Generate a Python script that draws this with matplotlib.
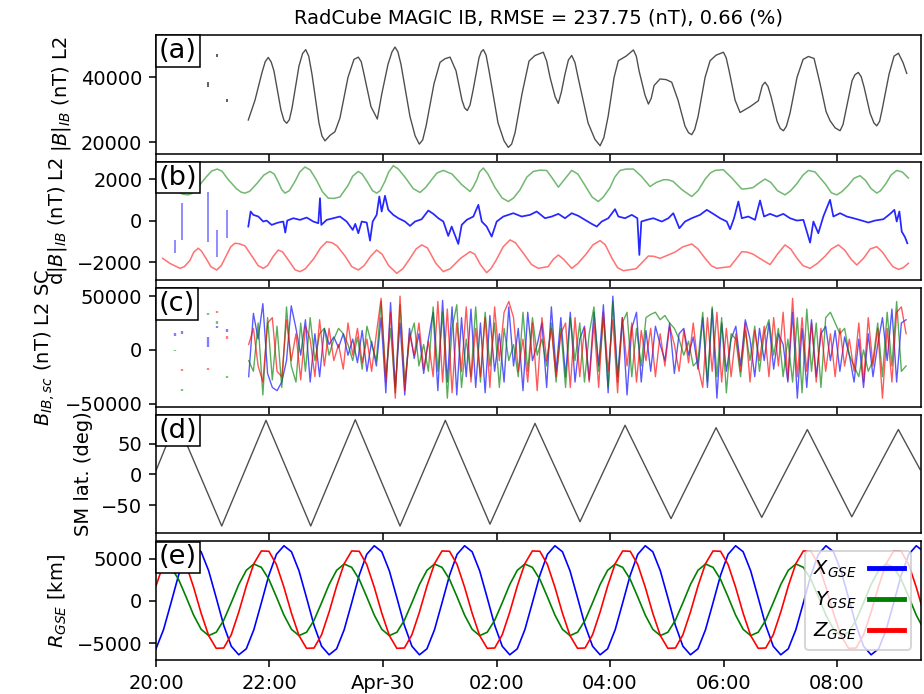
import numpy as np
import matplotlib
matplotlib.use('Agg')
import matplotlib.pyplot as plt
import matplotlib.dates as mdates

# tijden in minuten na 2022-04-29 20:00
T0 = np.datetime64('2022-04-29T20:00')
T_EIND = 808.8

titel = "RadCube MAGIC IB, RMSE = 237.75 (nT), 0.66 (%)"

# (a) |B| IB: (minuut, nT)
a_punten = [(97.6, 26900), (104.7, 33000), (112.1, 41500), (115.5, 44800), (118.7, 46100),
            (121.8, 44700), (124.7, 42000), (132.1, 30000), (135.3, 26800), (138.2, 25900),
            (141.0, 27000), (143.8, 30500), (151.2, 43500), (155.0, 47300), (158.3, 48500),
            (161.5, 46500), (164.9, 41000), (172.3, 26000), (175.5, 22000), (178.7, 20500),
            (184.0, 22200), (189.2, 23300), (194.5, 27500), (203.0, 40000), (209.3, 45500),
            (213.9, 46200), (217.0, 44800), (219.9, 41000), (227.3, 31000), (234.0, 27200),
            (238.7, 34900), (245.3, 44000), (249.5, 47800), (252.7, 49300), (255.8, 47800),
            (259.0, 44000), (268.5, 28000), (274.0, 22000), (278.4, 19500), (282.0, 20800),
            (285.5, 25000), (293.9, 38000), (300.3, 44600), (305.5, 45700), (310.9, 46200),
            (317.2, 42000), (323.5, 33000), (326.3, 30600), (329.1, 29800), (332.0, 31500),
            (335.2, 36000), (341.5, 46000), (343.8, 47800), (346.1, 48500), (349.0, 46800),
            (352.1, 42000), (361.6, 26000), (368.0, 20500), (372.5, 18500), (376.0, 19500),
            (379.6, 23000), (387.0, 35000), (394.4, 45000), (400.7, 46700), (409.5, 47700),
            (413.0, 45000), (416.6, 40000), (422.0, 34000), (425.3, 32000), (428.6, 35500),
            (432.4, 41000), (436.0, 45300), (439.5, 46700), (443.0, 44500), (446.2, 40000),
            (456.8, 26000), (464.0, 21000), (469.5, 19000), (473.5, 21500), (478.0, 28000),
            (484.3, 40000), (488.8, 45100), (497.0, 46500), (504.7, 48400), (507.8, 46500),
            (510.7, 42000), (517.0, 34500), (520.6, 31800), (523.5, 33500), (526.6, 37500),
            (532.9, 39500), (539.3, 39300), (545.2, 38500), (551.9, 33000), (559.3, 25000),
            (563.0, 23000), (566.4, 22400), (569.5, 24000), (573.1, 28000), (580.5, 40000),
            (585.8, 45100), (592.1, 46800), (599.9, 47700), (602.8, 46000), (605.9, 42000),
            (612.2, 33000), (617.5, 29200), (628.1, 31000), (636.8, 32800), (641.0, 37500),
            (643.9, 38500), (647.0, 37200), (650.3, 34000), (656.6, 26500), (660.0, 24300),
            (663.3, 23600), (666.5, 25000), (670.3, 29000), (677.7, 40000), (684.1, 45500),
            (689.7, 46400), (695.7, 45800), (702.1, 38000), (708.4, 29500), (712.6, 26700),
            (718.0, 24500), (723.2, 23600), (726.3, 25500), (729.5, 30000), (735.9, 39000),
            (739.0, 40800), (742.5, 41500), (745.5, 40200), (748.6, 37000), (754.9, 29000),
            (759.0, 26000), (762.0, 25100), (765.0, 26500), (767.6, 30000), (775.0, 41000),
            (780.3, 46500), (784.9, 47400), (789.8, 44500), (793.7, 41200)]

# losse stukjes data aan het begin
frag_t = [20.1, 27.5, 55.0, 64.2, 75.4]
a_frag_t = [55.0, 64.2, 75.4]
a_frag_lo = [37000, 46300, 32300]
a_frag_hi = [38600, 47300, 33200]

# (b) verschil (blauw) en grenzen (groen, rood)
b_blue_t = [97.6, 100.1, 102.9, 108.2, 113.4, 117.0, 122.3, 129.3, 134.6, 136.7,
            138.8, 145.2, 152.3, 159.3, 166.3, 171.6, 173.4, 174.8, 180.5, 187.5,
            194.5, 201.6, 208.0, 210.7, 213.9, 217.5, 222.8, 226.3, 229.1, 233.3,
            236.1, 238.6, 242.1, 245.6, 250.9, 256.2, 263.3, 268.6, 273.8, 280.9,
            287.9, 293.2, 298.5, 303.8, 309.0, 312.6, 319.6, 323.2, 328.5, 335.5,
            340.8, 344.4, 349.6, 354.9, 360.2, 367.2, 377.8, 386.6, 395.4, 402.5,
            411.3, 418.4, 425.4, 432.4, 439.5, 446.5, 453.6, 460.7, 466.0, 471.2,
            478.2, 485.3, 488.8, 495.9, 503.0, 508.9, 511.0, 513.1, 518.8, 525.8,
            534.7, 541.7, 546.9, 553.3, 559.3, 566.4, 575.2, 582.3, 589.2, 596.3,
            603.4, 606.9, 611.1, 615.7, 619.3, 626.2, 633.3, 638.6, 642.8, 649.2,
            656.3, 663.2, 670.3, 677.4, 684.4, 691.5, 695.0, 700.2, 705.5, 712.6,
            716.1, 723.2, 730.3, 737.3, 746.1, 753.1, 760.2, 769.0, 776.1, 780.6,
            783.1, 785.9, 788.4, 791.9, 794.3]
b_blue_v = [-273, 450, 289, 209, -32, 16, -193, -80, -32, -562,
            16, 128, 48, 161, -32, -112, 1092, -193, 48, 128,
            209, -32, -434, -145, -594, -32, -80, -948, -32, 289,
            1172, 450, 1205, 530, 289, 128, -32, -241, -32, 80,
            498, 337, 128, -32, -723, -273, -1108, -193, 48, 209,
            771, -32, -273, -755, -32, 209, 369, 209, 289, 450,
            128, 209, 337, 128, 369, 241, 48, -145, -273, -32,
            128, 562, 209, 128, 289, 128, -1638, -32, 48, 128,
            -32, 128, 369, -353, -32, 128, 289, 530, 337, 128,
            -32, -402, 128, 931, 128, 209, 48, 980, 209, 337,
            209, 337, 128, 16, 48, -1044, -32, -594, 209, 1012,
            209, 369, 209, 128, 16, -80, 16, 80, 337, 530,
            -32, 450, -514, -787, -1076]
b_frag_lo = [-1550, -915, -1000, -1720, -820]
b_frag_hi = [-900, 870, 1410, -430, 530]

b_green = [(7.1, 2000), (15, 1700), (23.3, 1400), (28, 1290), (33.8, 1250), (38, 1320),
           (44, 1600), (52.9, 2100), (59, 2400), (64.8, 2490), (70, 2380), (76.1, 2000),
           (85, 1550), (90, 1380), (94.1, 1335), (99, 1420), (106.8, 1800), (114, 2200),
           (120.5, 2375), (125, 2250), (129.0, 1900), (133, 1500), (136.4, 1335), (141, 1450),
           (147.0, 1900), (152, 2350), (157.5, 2590), (163, 2450), (169.2, 2000), (176, 1400),
           (182.2, 1090), (188, 1080), (194.5, 1150), (203.0, 1700), (208, 2150), (213.9, 2375),
           (218, 2250), (223.1, 1900), (229, 1450), (233.3, 1335), (237, 1450), (242.1, 1900),
           (246, 2350), (250.9, 2650), (256, 2500), (263.3, 2100), (272, 1550), (279.1, 1365),
           (285, 1600), (291.8, 2000), (297, 2300), (303.8, 2425), (313.0, 2250), (323, 1750),
           (332.0, 1410), (335, 1600), (339.4, 2000), (342, 2350), (346.1, 2540), (351, 2250),
           (358.4, 1600), (366, 1100), (372.5, 930), (378, 1100), (384.9, 1500), (392, 2100),
           (398.9, 2375), (406, 2440), (413.1, 2420), (419, 2050), (425.4, 1620), (432, 2000),
           (439.5, 2425), (446, 2250), (453.6, 1700), (461, 1150), (467.6, 930), (473, 1150),
           (480.0, 1600), (485, 2100), (490.6, 2425), (497, 2490), (504.7, 2490), (513, 2150),
           (522.3, 1650), (529, 1850), (536.4, 1975), (541, 1980), (546.6, 1900), (556, 1500),
           (566.4, 1170), (573, 1450), (580.5, 2000), (586, 2300), (591.0, 2425), (599.8, 2460),
           (609, 2050), (619.3, 1530), (625, 1550), (631.2, 1600), (637, 1800), (643.9, 2010),
           (650, 1850), (657, 1450), (665.0, 1250), (671, 1450), (677.7, 1800), (684, 2200),
           (689.7, 2425), (696.8, 2350), (708, 1750), (714, 1350), (719.7, 1250), (725, 1400),
           (731.7, 1700), (738, 2050), (744.3, 2170), (750, 1950), (756, 1550), (762.0, 1335),
           (766, 1450), (771.8, 1800), (777, 2200), (783.1, 2425), (789, 2350), (795.4, 2060)]
b_red = [(7.1, -1800), (15, -2050), (25.4, -2280), (30, -2200), (35.9, -1900), (40, -1500),
         (44.7, -1315), (48, -1450), (52.9, -1800), (58, -2200), (64.2, -2360), (69, -2150),
         (74.0, -1700), (79, -1250), (83.5, -1075), (88, -1100), (94.1, -1200), (103, -1800),
         (108, -2150), (113.4, -2280), (118, -2150), (124, -1700), (129.3, -1400), (134, -1500),
         (141, -1950), (147, -2350), (152.3, -2440), (158, -2300), (167.1, -1800), (174, -1300),
         (180.5, -1000), (186, -1050), (191.4, -1200), (200, -1700), (207, -2200), (213.9, -2360),
         (220, -2150), (227, -1700), (233.3, -1400), (239, -1600), (246, -2150), (254.5, -2520),
         (261, -2300), (268.6, -1800), (275, -1350), (280.9, -1155), (287, -1300), (296, -2050),
         (303.8, -2440), (311, -2300), (322, -1800), (332.0, -1480), (337, -1600), (343, -2100),
         (349.6, -2490), (354, -2300), (359.5, -1900), (367, -1250), (374.3, -915), (380, -1050),
         (389.1, -1600), (397, -2100), (404.2, -2280), (414.5, -2200), (420, -1850), (425.4, -1640),
         (431, -1850), (439.5, -2280), (446, -2050), (454.6, -1600), (462, -1150), (469.5, -950),
         (475, -1150), (482.1, -1800), (488, -2250), (494.1, -2395), (507.5, -2300), (514, -2000),
         (520.5, -1690), (526, -1700), (532.9, -1800), (541, -1650), (548.7, -1500), (557, -1250),
         (566.4, -1110), (573, -1350), (580.5, -1800), (587, -2150), (592.8, -2280), (606.9, -2200),
         (613, -1850), (619.3, -1480), (625, -1500), (631.2, -1600), (640, -1850), (649.2, -2100),
         (657, -1600), (665.0, -1155), (671, -1350), (677.7, -1800), (684, -2150), (691.5, -2280),
         (699, -2050), (707.3, -1700), (714, -1350), (721.4, -1155), (728, -1400), (735, -1850),
         (740.9, -2120), (748, -1800), (755, -1350), (762.0, -1240), (768, -1500), (774.0, -1900),
         (779, -2200), (784.9, -2330), (790, -2250), (795.4, -2040)]

# (c) B in sc-frame, in 1000 nT, elke 5 min vanaf 98 min
c_start, c_stap = 98.0, 5.0
c_blue = [-25, 34, 10, 43, -22, -35, -38, -30, -10, 41, 20,
          -5, 28, -30, 15, -25, 20, 5,
          12, 2, 15, -5, 10, -12, 18, -20, 8, -15,
          30, -40, 44, -35, 25, -42,
          20, -8, 15, -22, 10,
          35, -38, 46, -30, 40, -42, 30, -25,
          38, -35, 25, -40, 32, -20, 15,
          -30, 40, -15, 20, -38, 35, -10, 5, 25, -35, 40, -20,
          30, -25, 35, -30, 10, 22, -28, 35, -15,
          42, -40, 50, -25, 30, -42, 20, 35, -30,
          18, -20, 22, 5, -10, 25, -22, 15, 20, -5, 12, -18,
          30, -35, 38, -45, 25, -20, 10,
          22, -15, 28, 10, -25, 20, -10, 25, -18, 15, 5, -30,
          35, -45, 20, -35, 28, -25, 15,
          22, -10, 18, -20, 12, -5,
          -30, 10, -35, 15, -25, 5,
          30, -10, 38, -30, 25, 28]
c_green = [-10, -20, 25, -42, 30, -28, 22, -35, 40, -15, -30,
           25, -20, 30, -10, 15, 20, -5,
           10, 20, 15, 5, -10, 12, -18, 22, 5, -10,
           45, -25, 20, -40, 42, -30,
           10, 25, -15, 5, -20,
           40, -20, 35, -45, 20, 42, -35, 10,
           -25, 40, -30, 35, -15, 25, -35,
           20, -10, 5, -25, 35, -20, 30, -5, 10, -15, 25, -30,
           20, -35, 30, -10, 25, -30, 15, 40, -20,
           30, -35, 45, -30, 25, 35, -25, 20, -15,
           30, 33, 35, 28, 32, 25, 20, 10, -5, 8, -15, -10,
           35, -30, 40, -25, 30, -40, 15,
           10, -25, 18, -10, 22, -20, 15, 28, -5, 20, -25, 10,
           -30, 30, -40, 38, -20, 25, -35,
           30, 35, 25, 15, 20, -5,
           -15, -25, 0, -20, -10, 25,
           -25, 35, -15, 45, -20, -15]
c_red = [5, 20, -15, -30, 25, 30, -20, -25, 28, -10, 15,
         -28, 22, 10, -25, 28, -15, 20,
         -10, 5, -18, 25, -5, 20, -12, 10, -20, 15,
         48, -30, 35, -45, 50, -38,
         15, -5, 25, -18, 8,
         -25, 45, -30, 38, -40, 25, -20, 40,
         -30, 20, -25, 30, -35, 40, -10,
         35, 45, 30, -20, 10, -30, 25, -38, 30, -10, 20, -25,
         15, 25, -35, 30, -25, 20, -30, 25, -35,
         35, -20, 28, -40, 30, -15, 25, -30, 18,
         -10, 20, -25, 15, -15, 22, 5, -20, 18, -12, 25, -15,
         -35, 30, -20, 35, -30, 20, -25,
         15, -20, 25, -30, 18, -10, 22, -25, 30, -15, 35, -28,
         48, -25, 30, -20, 25, -30, 20,
         -20, 15, -25, 20, -15, 10,
         -20, 25, -30, 30, -15, 20,
         -45, 20, -30, 35, 40, 15]
c_frag_blue = [(13, 16), (15, 18), (2.5, 11.7), (20, 22.5), (17, 19)]
c_frag_green = [(-1.5, 0), (-38.5, -36.5), (32.5, 34.5), (24.5, 27), (-26, -24.5)]
c_frag_red_t = [27.5, 55.0, 64.2, 75.4]
c_frag_red = [(-20, -18), (-18.5, -16.5), (34, 36), (10.5, 13)]

# (d) SM breedtegraad, toppen en dalen
d_t = [0.0, 21.7, 69.5, 116.3, 163.6, 210.7, 258.0, 305.9, 353.1, 400.7,
       448.3, 495.9, 544.5, 592.1, 640.4, 688.6, 735.6, 784.8, 807.8]
d_v = [6, 88, -84, 88, -84, 89, -84, 88, -81, 83,
       -77, 80, -72, 76, -70, 73, -69, 73, 8]

# (e) positie GSE in km, elke 7.958 min vanaf 20:00
e_stap = 7.958
e_x = [-5671, -3412, -219, 3057, 5537, 6553, 5841, 3582, 389, -2887, -5367, -6383,
       -5671, -3412, -219, 3057, 5537, 6553, 5841, 3582, 389, -2887, -5367, -6383,
       -5671, -3412, -219, 3057, 5537, 6553, 5841, 3582, 389, -2887, -5367, -6383,
       -5671, -3412, -219, 3057, 5537, 6553, 5841, 3582, 389, -2887, -5367, -6383,
       -5671, -3412, -219, 3057, 5537, 6553, 5841, 3582, 389, -2887, -5367, -6383,
       -5671, -3412, -219, 3057, 5537, 6553, 5841, 3582, 389, -2887, -5367, -6383,
       -5671, -3412, -219, 3057, 5537, 6553, 5841, 3582, 389, -2887, -5367, -6383,
       -5671, -3412, -219, 3057, 5537, 6553, 5841, 3582, 389, -2887, -5367, -6383,
       -5671, -3412, -219, 3057, 5537, 6553, 5841]
e_y = [3642, 4386, 3991, 2564, 489, -1679, -3362, -4106, -3711, -2284, -209, 1959,
       3642, 4386, 3991, 2564, 489, -1679, -3362, -4106, -3711, -2284, -209, 1959,
       3642, 4386, 3991, 2564, 489, -1679, -3362, -4106, -3711, -2284, -209, 1959,
       3642, 4386, 3991, 2564, 489, -1679, -3362, -4106, -3711, -2284, -209, 1959,
       3642, 4386, 3991, 2564, 489, -1679, -3362, -4106, -3711, -2284, -209, 1959,
       3642, 4386, 3991, 2564, 489, -1679, -3362, -4106, -3711, -2284, -209, 1959,
       3642, 4386, 3991, 2564, 489, -1679, -3362, -4106, -3711, -2284, -209, 1959,
       3642, 4386, 3991, 2564, 489, -1679, -3362, -4106, -3711, -2284, -209, 1959,
       3642, 4386, 3991, 2564, 489, -1679, -3362]
e_z = [1773, 4426, 5935, 5898, 4323, 1632, -1453, -4106, -5615, -5578, -4003, -1312,
       1773, 4426, 5935, 5898, 4323, 1632, -1453, -4106, -5615, -5578, -4003, -1312,
       1773, 4426, 5935, 5898, 4323, 1632, -1453, -4106, -5615, -5578, -4003, -1312,
       1773, 4426, 5935, 5898, 4323, 1632, -1453, -4106, -5615, -5578, -4003, -1312,
       1773, 4426, 5935, 5898, 4323, 1632, -1453, -4106, -5615, -5578, -4003, -1312,
       1773, 4426, 5935, 5898, 4323, 1632, -1453, -4106, -5615, -5578, -4003, -1312,
       1773, 4426, 5935, 5898, 4323, 1632, -1453, -4106, -5615, -5578, -4003, -1312,
       1773, 4426, 5935, 5898, 4323, 1632, -1453, -4106, -5615, -5578, -4003, -1312,
       1773, 4426, 5935, 5898, 4323, 1632, -1453]


def tijd(minuten):
    m = np.asarray(minuten, dtype=float)
    return T0 + (m * 60000).astype('timedelta64[ms]')


def regelmatig(start, stap, n):
    return tijd(start + stap * np.arange(n))


def paneel_label(ax, tekst):
    ax.annotate(tekst, xy=(0, 1), xycoords='axes fraction', xytext=(1.5, -1.5),
                textcoords='offset points', ha='left', va='top', fontsize=14,
                bbox=dict(boxstyle='square,pad=0.1', fc='white', ec='black', lw=0.8),
                zorder=10)


fig, axs = plt.subplots(5, 1, sharex=True, figsize=(6.6, 4.9572), dpi=140)
fig.subplots_adjust(left=0.1688, right=0.9968, top=0.9496, bottom=0.049, hspace=0.0675)

# (a)
ax = axs[0]
a_t, a_v = zip(*a_punten)
ax.plot(tijd(a_t), a_v, color='0.3', lw=0.7)
ax.vlines(tijd(a_frag_t), a_frag_lo, a_frag_hi, color='0.3', lw=0.9)
ax.set_ylim(16600, 53000)
ax.set_yticks([20000, 40000])
ax.set_ylabel(r'$|B|_{IB}$ (nT) L2')
ax.set_title(titel, fontsize=10)
paneel_label(ax, '(a)')

# (b)
ax = axs[1]
g_t, g_v = zip(*b_green)
r_t, r_v = zip(*b_red)
ax.plot(tijd(g_t), g_v, color='g', alpha=0.55, lw=0.8)
ax.plot(tijd(r_t), r_v, color='r', alpha=0.55, lw=0.8)
ax.vlines(tijd(frag_t), b_frag_lo, b_frag_hi, color='b', alpha=0.5, lw=0.9)
ax.plot(tijd(b_blue_t), b_blue_v, color='b', alpha=0.85, lw=0.9)
ax.set_ylim(-2850, 2850)
ax.set_yticks([-2000, 0, 2000])
ax.set_ylabel(r'd$|B|_{IB}$ (nT) L2')
paneel_label(ax, '(b)')

# (c)
ax = axs[2]
for waarden, kleur in [(c_blue, 'b'), (c_green, 'g'), (c_red, 'r')]:
    ax.plot(regelmatig(c_start, c_stap, len(waarden)), np.array(waarden) * 1000,
            color=kleur, alpha=0.65, lw=0.7)
for frag, kleur, tt in [(c_frag_blue, 'b', frag_t), (c_frag_green, 'g', frag_t),
                        (c_frag_red, 'r', c_frag_red_t)]:
    lo = [f[0] * 1000 for f in frag]
    hi = [f[1] * 1000 for f in frag]
    ax.vlines(tijd(tt), lo, hi, color=kleur, alpha=0.5, lw=1.2)
ax.set_ylim(-53000, 57400)
ax.set_yticks([-50000, 0, 50000])
ax.set_ylabel(r'$B_{IB,sc}$ (nT) L2 SC')
paneel_label(ax, '(c)')

# (d)
ax = axs[3]
ax.plot(tijd(d_t), d_v, color='0.3', lw=0.7)
ax.set_ylim(-96, 97)
ax.set_yticks([-50, 0, 50])
ax.set_ylabel('SM lat. (deg)')
paneel_label(ax, '(d)')

# (e)
ax = axs[4]
ax.plot(regelmatig(0, e_stap, len(e_x)), e_x, color='b', lw=0.85, label=r'$X_{GSE}$')
ax.plot(regelmatig(0, e_stap, len(e_y)), e_y, color='g', lw=0.85, label=r'$Y_{GSE}$')
ax.plot(regelmatig(0, e_stap, len(e_z)), e_z, color='r', lw=0.85, label=r'$Z_{GSE}$')
ax.set_ylim(-7000, 7070)
ax.set_yticks([-5000, 0, 5000])
ax.set_ylabel(r'$R_{GSE}$ [km]')
leg = ax.legend(loc='upper right', markerfirst=False, handlelength=1.8, handletextpad=0.6)
for lijn in leg.get_lines():
    lijn.set_linewidth(2.5)
paneel_label(ax, '(e)')

locator = mdates.HourLocator(byhour=range(0, 24, 2))
ax.xaxis.set_major_locator(locator)
ax.xaxis.set_major_formatter(mdates.ConciseDateFormatter(locator, show_offset=False))
ax.set_xlim(tijd([0.0, T_EIND]))

fig.savefig('out.png', dpi=140)
